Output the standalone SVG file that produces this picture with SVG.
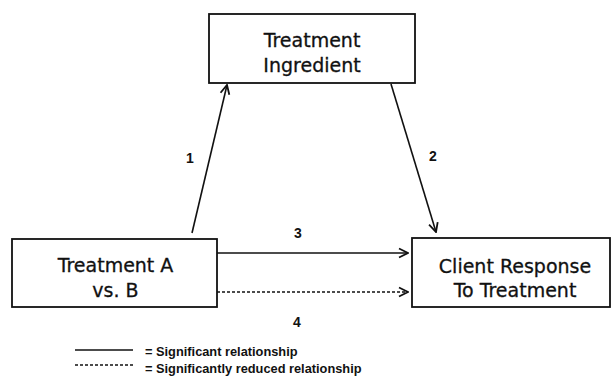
<svg xmlns="http://www.w3.org/2000/svg" width="612" height="377" viewBox="0 0 612 377">
<defs>
<style>
.box{fill:#fff;stroke:#111;stroke-width:1.8}
.t{font-family:"DejaVu Sans","Liberation Sans",Arial,sans-serif;font-size:19px;fill:#111;stroke:#111;stroke-width:0.3;text-anchor:middle}
.n{font-family:"Liberation Sans",Arial,sans-serif;font-size:14px;font-weight:bold;fill:#111;text-anchor:middle}
.lg{font-family:"Liberation Sans",Arial,sans-serif;font-size:12.8px;font-weight:bold;fill:#111}
.c{fill:none;stroke:#111;stroke-width:1.6}
.d{stroke-dasharray:3,2}
</style>
<marker id="ah" viewBox="0 0 12 12" refX="11" refY="6" markerWidth="12" markerHeight="12" markerUnits="userSpaceOnUse" orient="auto">
<path d="M2,1.5 L11,6 L2,10.5" fill="none" stroke="#111" stroke-width="1.8"/>
</marker>
</defs>
<rect width="612" height="377" fill="#fff"/>
<g id="ingredient">
<rect class="box" x="209" y="14" width="206" height="69"/>
<text class="t" x="312" y="47">Treatment</text>
<text class="t" x="312" y="72">Ingredient</text>
</g>
<g id="treatment">
<rect class="box" x="12" y="239" width="205" height="68"/>
<text class="t" x="115.5" y="272">Treatment A</text>
<text class="t" x="115.5" y="297">vs. B</text>
</g>
<g id="response">
<rect class="box" x="412" y="238" width="198" height="69"/>
<text class="t" x="515" y="273">Client Response</text>
<text class="t" x="515" y="297">To Treatment</text>
</g>
<g id="connectors">
<line class="c" x1="192" y1="233" x2="227" y2="85" marker-end="url(#ah)"/>
<line class="c" x1="391" y1="84" x2="436" y2="232" marker-end="url(#ah)"/>
<line class="c" x1="217" y1="253" x2="408" y2="253" marker-end="url(#ah)"/>
<line class="c d" x1="217" y1="292" x2="408" y2="292" marker-end="url(#ah)"/>
<text class="n" x="190" y="163">1</text>
<text class="n" x="433" y="161">2</text>
<text class="n" x="298" y="238">3</text>
<text class="n" x="297" y="327">4</text>
</g>
<g id="legend">
<line class="c" x1="75" y1="350" x2="133" y2="350" stroke-width="1.4"/>
<line class="c d" x1="75" y1="365" x2="133" y2="365" stroke-width="1.4"/>
<text class="lg" x="145" y="356">= Significant relationship</text>
<text class="lg" x="145" y="373">= Significantly reduced relationship</text>
</g>
</svg>
